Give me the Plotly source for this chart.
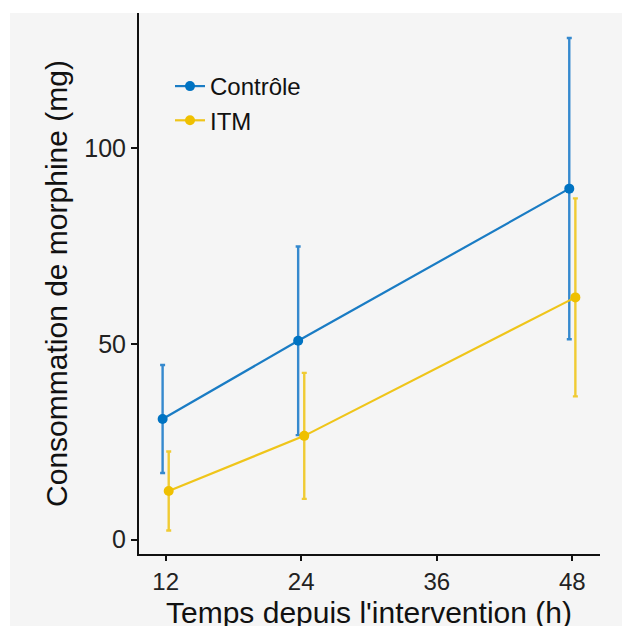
import plotly.graph_objects as go

# Data
hours = [12, 24, 48]
groups = ["Contrôle", "ITM"]
control_mean = [30.8, 50.8, 89.7]
control_sd = [13.8, 24.1, 38.5]
itm_mean = [12.4, 26.5, 61.9]
itm_sd = [10.1, 16.1, 25.3]
x_ticks = [12, 24, 36, 48]
y_ticks = [0, 50, 100]

colors = {"Contrôle": "#0073C2", "ITM": "#EFC000"}
line_colors = {"Contrôle": "#1a7cc4", "ITM": "#efc51a"}
err_colors = {"Contrôle": "#3589ce", "ITM": "#f0cb33"}
dodge = {"Contrôle": -0.27, "ITM": 0.27}

FONT = "Liberation Sans, Arial, sans-serif"

fig = go.Figure()
for name, mean, sd in [("Contrôle", control_mean, control_sd), ("ITM", itm_mean, itm_sd)]:
    fig.add_trace(go.Scatter(
        x=[h + dodge[name] for h in hours],
        y=mean,
        name=name,
        mode="lines+markers",
        line=dict(color=line_colors[name], width=2.2),
        marker=dict(color=colors[name], size=10),
        error_y=dict(type="data", array=sd, visible=True,
                     color=err_colors[name], thickness=2.4, width=2.5),
    ))

# page body has an 8px margin; figure is sized/positioned to compensate
W, H = 622, 618
L, R, T, B = 131, 30, 5, 72
pw = W - L - R
ph = H - T - B

fig.update_layout(
    width=W, height=H,
    margin=dict(l=L, r=R, t=T, b=B, autoexpand=False),
    paper_bgcolor="white",
    plot_bgcolor="rgba(0,0,0,0)",
    font=dict(family=FONT, color="#111111"),
    showlegend=True,
    legend=dict(
        x=(162 - L) / pw, y=(ph - 51) / ph,
        xanchor="left", yanchor="top",
        bgcolor="rgba(0,0,0,0)",
        font=dict(size=24, color="#111111"),
        tracegroupgap=0,
    ),
    shapes=[dict(
        type="rect", xref="paper", yref="paper", layer="below",
        x0=(2 - L) / pw, x1=(W + 10 - L) / pw,
        y0=-(B + 10) / ph, y1=1.0,
        fillcolor="#f5f5f5", line=dict(width=0),
    )],
    annotations=[dict(
        text="Temps depuis l'intervention (h)",
        xref="paper", yref="paper",
        x=(361 - L) / pw, y=-(586 - (T + ph)) / ph,
        xanchor="center", yanchor="top",
        showarrow=False,
        font=dict(size=30, color="#111111", family=FONT),
    )],
    xaxis=dict(
        range=[9.64, 50.45],
        tickvals=x_ticks,
        ticktext=[str(v) for v in x_ticks],
        showgrid=False, zeroline=False,
        showline=True, linecolor="#111111", linewidth=2,
        ticks="outside", ticklen=5, tickwidth=2, tickcolor="#111111",
        tickfont=dict(size=24, color="#222222"),
    ),
    yaxis=dict(
        range=[-3.7, 134.6],
        tickvals=y_ticks,
        showgrid=False, zeroline=False,
        showline=True, linecolor="#111111", linewidth=2,
        ticks="outside", ticklen=6, tickwidth=2, tickcolor="#111111",
        tickfont=dict(size=25, color="#222222"),
        title=dict(text="Consommation de morphine (mg)",
                   font=dict(size=30, color="#111111"), standoff=8),
    ),
)

fig.write_html("out.html")
